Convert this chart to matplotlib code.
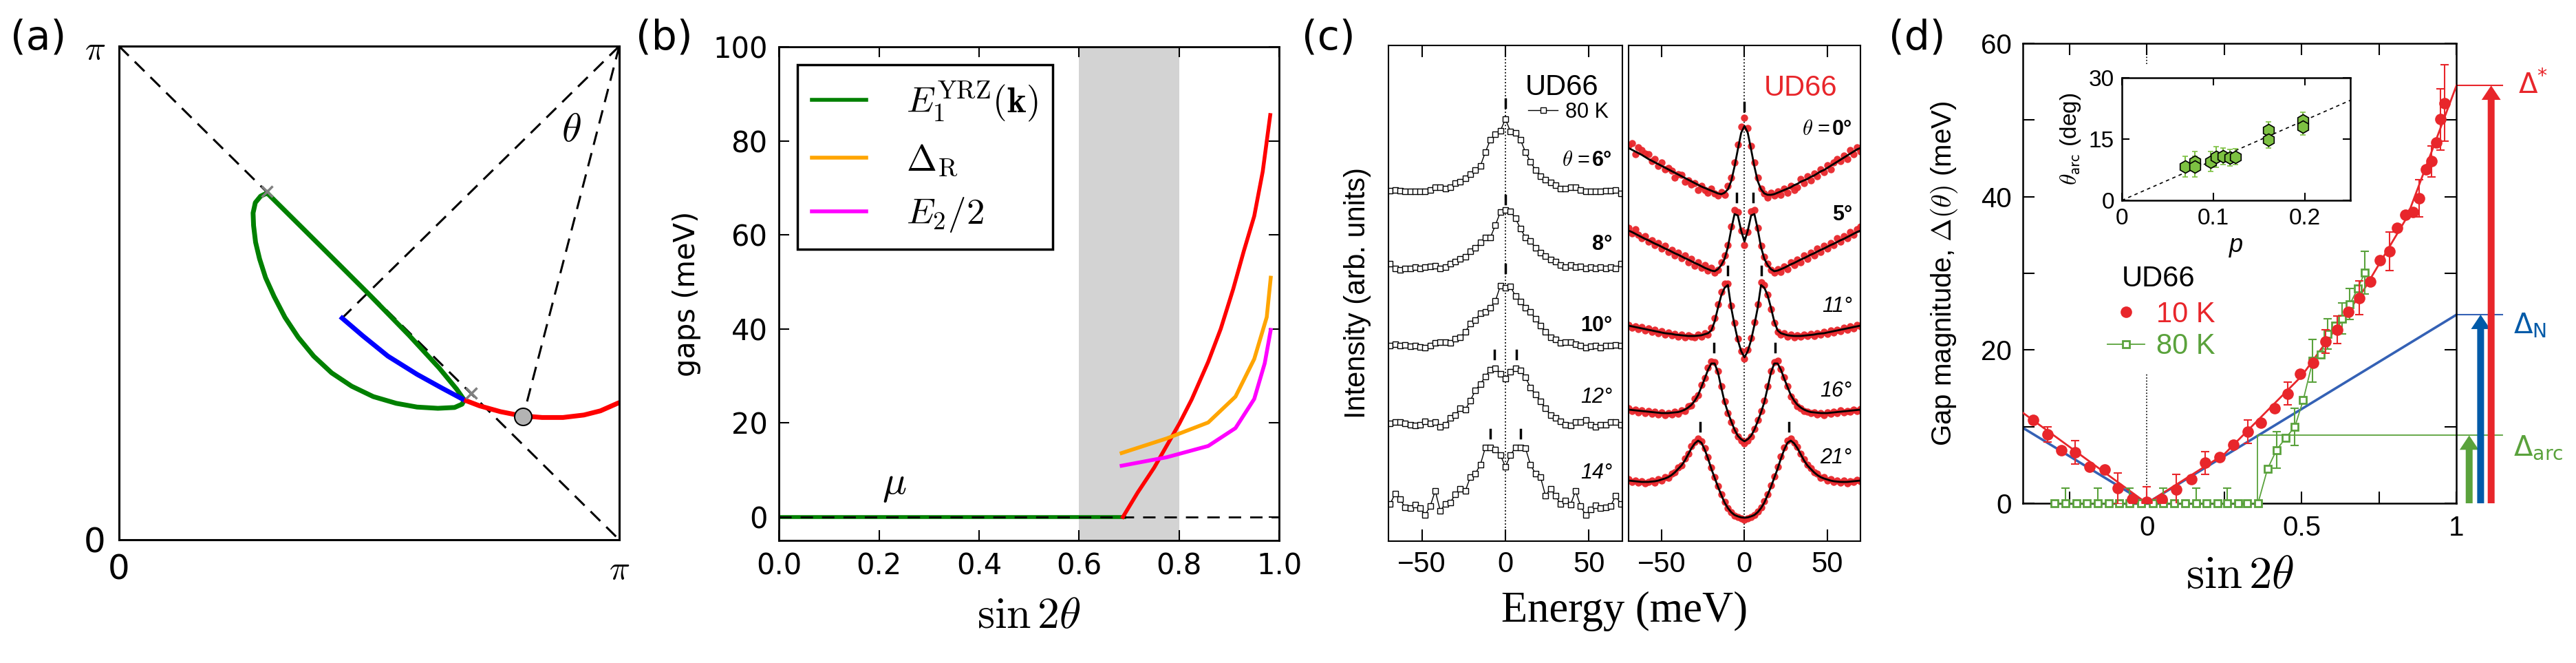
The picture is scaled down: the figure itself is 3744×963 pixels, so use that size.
import numpy as np
import matplotlib
matplotlib.use("Agg")
import matplotlib.pyplot as plt

plt.rcParams['mathtext.fontset'] = 'cm'
plt.rcParams['font.family'] = 'DejaVu Sans'

SANS = 'Liberation Sans'
RED = '#e8262b'
GREEN80 = '#5aa23c'
BLUE = '#3461b5'
BLUE_ARROW = '#005aa8'
HEX_GREEN = '#7dc142'

# ---------------- (a) Fermi pocket sketch, momenta in units of pi
pocket_out_kx = [0.296, 0.283, 0.2725, 0.268, 0.269, 0.273, 0.281, 0.293, 0.310, 0.3317, 0.3583, 0.3892,
                 0.425, 0.465, 0.5083, 0.5542, 0.5958, 0.6375, 0.6708, 0.6858, 0.69]
pocket_out_ky = [0.7025, 0.696, 0.683, 0.662, 0.6365, 0.6027, 0.5689, 0.5309, 0.4928, 0.4506, 0.41, 0.3719,
                 0.3381, 0.3111, 0.29, 0.2764, 0.2688, 0.2663, 0.268, 0.2747, 0.2832]
pocket_in_kx = [0.296, 0.40, 0.50, 0.58, 0.64, 0.675, 0.69]
pocket_in_ky = [0.7025, 0.598, 0.497, 0.414, 0.348, 0.305, 0.2832]
arc_kx = [0.446, 0.4875, 0.5375, 0.596, 0.646, 0.69]
arc_ky = [0.449, 0.413, 0.372, 0.335, 0.307, 0.2832]
fs_kx = [0.69, 0.7208, 0.7625, 0.8042, 0.8458, 0.8875, 0.9292, 0.9625, 1.0]
fs_ky = [0.2832, 0.2713, 0.2595, 0.2511, 0.2477, 0.2477, 0.2527, 0.2612, 0.278]
cross_kx = [0.296, 0.704]
cross_ky = [0.706, 0.297]
node_kx, node_ky = 0.808, 0.250

# ---------------- (b) gaps vs sin2theta
yrz_s = [0.0, 0.69]
yrz_gap = [0.0, 0.0]
red_s = [0.6875, 0.717, 0.75, 0.80, 0.825, 0.858, 0.883, 0.908, 0.929, 0.95, 0.967, 0.982]
red_gap = [0.0, 5.2, 10.5, 19.8, 25.0, 33.0, 40.0, 48.5, 56.5, 64.0, 73.5, 85.5]
dR_s = [0.685, 0.775, 0.858, 0.9125, 0.95, 0.975, 0.983]
dR_gap = [13.6, 16.7, 20.1, 25.6, 33.6, 42.5, 50.9]
e2_s = [0.685, 0.775, 0.858, 0.9125, 0.95, 0.971, 0.983]
e2_gap = [10.9, 12.7, 15.1, 18.9, 25.1, 32.7, 39.8]

# ---------------- (c) EDCs
E80 = np.arange(-69, 70, 3)
edc80_6 = [.04, .045, .035, .03, .03, .03, .03, .03, .05, .085, .09, .07, .09, .15, .17, .22, .28, .34, .40, .60, .78, .86, .91,
           1.08,
           .90, .88, .78, .60, .46, .34, .25, .20, .16, .12, .07, .07, .09, .09, .05, .03, .03, .03, .03, .035, .04, .05, .0]
edc80_8 = [.13, .06, .04, .06, .06, .08, .06, .08, .09, .10, .06, .08, .13, .16, .20, .23, .31, .36, .44, .51, .51, .69, .88,
           .91,
           .89, .79, .64, .51, .46, .36, .29, .24, .19, .16, .11, .08, .11, .08, .09, .06, .08, .06, .08, .06, .08, .06, .13]
edc80_10 = [.06, .08, .06, .07, .05, .06, .04, .03, .06, .10, .11, .11, .10, .16, .18, .26, .38, .43, .53, .55, .61, .71, .93,
            .90,
            .92, .78, .70, .61, .55, .45, .35, .26, .18, .15, .10, .11, .11, .08, .06, .03, .05, .06, .03, .06, .06, .07, .06]
edc80_12 = [.06, .08, .08, .06, .04, .03, .04, .09, .06, .08, .01, .04, .14, .18, .28, .26, .39, .54, .63, .74, .84, .86, .78,
            .71,
            .81, .86, .83, .73, .58, .48, .38, .28, .18, .14, .09, .04, .03, .08, .08, .11, .04, .01, .04, .04, .08, .08, .04]
edc80_14 = [.09, .24, .16, .04, .03, .08, .03, -.07, .06, .28, -.01, .09, .11, .23, .31, .28, .48, .53, .66, .91, .91, .88, .80,
            .63,
            .80, .91, .91, .90, .66, .53, .48, .21, .31, .21, .09, .14, .08, .28, .06, -.07, .01, .07, .03, .04, .06, .21, .09]
edc80 = [edc80_6, edc80_8, edc80_10, edc80_12, edc80_14]
off80 = [5.05, 3.90, 2.78, 1.65, 0.45]
lab80 = ['6°', '8°', '10°', '12°', '14°']
bold80 = [True, True, True, False, False]
laby80 = [5.53, 4.31, 3.13, 2.09, 0.99]
mark80_E = [0, 0, 0, -6.6, 6.5, -9.2, 8.9]
mark80_y = [6.36, 4.96, 3.96, 2.71, 2.71, 1.56, 1.56]

E10 = np.arange(-70, 71, 2)
fit10_0 = [.71, .685, .66, .635, .61, .58, .55, .525, .50, .475, .45, .425, .40, .375, .35, .325, .30, .275, .25, .225,
           .20, .175, .15, .13, .11, .09, .07, .05, .04, .06, .11, .23, .44, .69, .93,
           1.03,
           .93, .69, .44, .23, .11, .05, .03, .03, .04, .06, .08, .10, .12, .14, .17, .19, .22, .24, .26, .29,
           .31, .34, .37, .39, .42, .45, .48, .51, .54, .57, .60, .63, .66, .69, .71]
dots10_0 = [.75, .78, .62, .72, .68, .63, .62, .52, .55, .45, .50, .40, .42, .38, .28, .33, .32, .22, .24, .18,
            .20, .10, .16, .10, .06, .12, .05, .02, .07, .03, .16, .28, .50, .76, 1.02,
            1.15,
            1.00, .74, .50, .28, .12, .05, -.01, .06, .02, .08, .03, .12, .06, .16, .10, .14, .26, .20, .30, .24,
            .34, .30, .40, .36, .46, .40, .50, .55, .52, .60, .55, .68, .62, .72, .66]
fit10_5 = [.66, .64, .615, .59, .565, .54, .52, .495, .47, .45, .425, .40, .38, .355, .33, .31, .285, .26, .24, .215,
           .19, .17, .145, .12, .10, .08, .07, .10, .16, .25, .42, .68, .90, .88, .66,
           .50,
           .66, .88, .90, .68, .42, .25, .16, .10, .07, .08, .10, .12, .145, .17, .19, .215, .24, .26, .285, .31,
           .33, .355, .38, .40, .425, .45, .47, .495, .52, .54, .565, .59, .615, .64, .66]
dots10_5 = [.70, .62, .68, .60, .55, .58, .50, .52, .45, .48, .40, .44, .35, .38, .30, .34, .26, .30, .20, .25,
            .15, .20, .12, .16, .08, .12, .05, .09, .20, .30, .45, .72, .96, .93, .66,
            .45,
            .64, .94, .96, .70, .44, .28, .18, .09, .05, .10, .06, .14, .10, .20, .16, .24, .20, .30, .25, .34,
            .30, .40, .35, .44, .40, .48, .45, .55, .50, .58, .55, .64, .60, .68, .72]
fit10_11 = [.51, .50, .49, .48, .47, .46, .45, .44, .43, .42, .41, .40, .395, .39, .38, .375, .37, .365, .36, .36,
            .36, .365, .37, .385, .40, .44, .57, .77, .95, 1.06, 1.10, .77, .52, .30, .14,
            .05,
            .14, .30, .52, .77, 1.10, 1.06, .95, .77, .57, .44, .40, .385, .37, .365, .36, .36, .36, .365, .37, .375,
            .38, .39, .395, .40, .41, .42, .43, .44, .45, .46, .47, .48, .49, .50, .51]
dots10_11 = [.52, .48, .50, .46, .49, .44, .47, .42, .45, .40, .43, .38, .41, .37, .39, .35, .38, .34, .37, .35,
             .34, .38, .35, .40, .38, .48, .62, .82, 1.00, 1.12, 1.12, .80, .55, .32, .14,
             .03,
             .16, .33, .56, .82, 1.14, 1.10, .96, .75, .55, .42, .38, .40, .35, .38, .34, .37, .35, .38, .36, .39,
             .36, .40, .38, .42, .39, .44, .41, .45, .43, .48, .45, .50, .47, .52, .50]
fit10_16 = [.51, .505, .50, .495, .49, .485, .48, .475, .47, .465, .46, .46, .46, .465, .47, .475, .49, .51, .54, .58,
            .64, .72, .84, .96, 1.09, 1.18, 1.18, 1.05, .83, .62, .47, .34, .22, .13, .08,
            .05,
            .08, .13, .22, .34, .47, .62, .83, 1.05, 1.18, 1.18, 1.09, .96, .84, .72, .64, .58, .54, .51, .49, .475,
            .47, .465, .46, .46, .46, .465, .47, .475, .48, .485, .49, .495, .50, .505, .51]
dots10_16 = [.53, .49, .51, .47, .50, .46, .49, .45, .48, .44, .47, .43, .46, .44, .48, .45, .50, .49, .56, .57,
             .67, .72, .87, .97, 1.12, 1.21, 1.20, 1.07, .85, .63, .46, .33, .21, .12, .06,
             .02,
             .06, .12, .23, .36, .49, .64, .85, 1.07, 1.20, 1.22, 1.10, .98, .85, .70, .63, .56, .53, .49, .48, .46,
             .47, .44, .46, .43, .47, .45, .48, .46, .50, .47, .49, .48, .51, .49, .52]
fit10_21 = [.58, .575, .57, .565, .56, .56, .56, .565, .57, .58, .595, .61, .63, .66, .70, .75, .80, .87, .96, 1.05,
            1.12, 1.16, 1.13, 1.03, .90, .75, .62, .49, .37, .26, .18, .12, .08, .06, .045,
            .04,
            .045, .06, .08, .12, .18, .26, .37, .49, .62, .75, .90, 1.03, 1.13, 1.16, 1.12, 1.05, .96, .87, .80, .75,
            .70, .66, .63, .61, .595, .58, .57, .565, .56, .56, .56, .565, .57, .575, .58]
dots10_21 = [.60, .56, .58, .55, .57, .54, .56, .58, .55, .60, .58, .63, .62, .68, .70, .77, .80, .90, .97, 1.08,
             1.14, 1.19, 1.15, 1.05, .92, .77, .63, .50, .38, .27, .18, .12, .07, .05, .03,
             .01,
             .03, .05, .08, .13, .19, .28, .38, .51, .64, .78, .93, 1.06, 1.16, 1.19, 1.13, 1.07, .97, .89, .81, .76,
             .70, .68, .62, .63, .58, .60, .56, .58, .55, .58, .54, .57, .56, .59, .57]
fit10 = [fit10_0, fit10_5, fit10_11, fit10_16, fit10_21]
dots10 = [dots10_0, dots10_5, dots10_11, dots10_16, dots10_21]
off10 = [5.0, 3.85, 2.62, 1.40, 0.30]
lab10 = ['0°', '5°', '11°', '16°', '21°']
bold10 = [True, True, False, False, False]
laby10 = [5.98, 4.74, 3.41, 2.18, 1.21]
mark10_E = [0, -4.8, 5.2, -10.3, 10.3, -18.3, 18.6, -26.9, 26.9]
mark10_y = [6.31, 4.99, 4.99, 3.93, 3.93, 2.81, 2.81, 1.66, 1.66]

# ---------------- (d) gap vs sin2theta
s10 = [-0.368, -0.321, -0.275, -0.231, -0.184, -0.137, -0.093, -0.047, 0.0, 0.048, 0.095, 0.143, 0.188, 0.235,
       0.279, 0.327, 0.368, 0.412, 0.454, 0.496, 0.537, 0.577, 0.615, 0.651, 0.685, 0.721, 0.753, 0.783, 0.808,
       0.834, 0.859, 0.879, 0.901, 0.920, 0.935, 0.948, 0.961]
gap10 = [10.9, 8.95, 6.96, 6.65, 4.76, 4.4, 1.94, 0.56, 0.15, 0.56, 1.79, 3.1, 5.27, 6.0,
         7.67, 9.36, 10.5, 12.4, 14.3, 16.9, 18.3, 21.1, 22.6, 25.0, 26.8, 28.9, 31.7, 32.9, 35.9,
         37.6, 38.0, 39.8, 43.6, 44.6, 47.1, 50.1, 52.2]
err10 = [0, 1.0, 0, 1.5, 0, 0, 2.0, 0, 2.0, 0, 2.0, 0, 1.5, 0,
         0, 1.5, 0, 0, 1.5, 0, 0, 1.5, 1.8, 0, 2.2, 0, 0, 2.5, 0,
         0, 0, 2.4, 0, 2.0, 0, 4.0, 5.0]
fit10_s = [-0.4, 0.0, 0.25, 0.5, 0.7, 0.84, 1.0]
fit10_gap = [11.8, 0.0, 6.4, 16.6, 27.8, 37.3, 54.5]
s80 = [-0.298, -0.262, -0.226, -0.193, -0.159, -0.123, -0.089, -0.055, -0.019, 0.019, 0.053, 0.089, 0.123,
       0.159, 0.193, 0.228, 0.260, 0.294, 0.325, 0.359, 0.390, 0.419, 0.448, 0.478, 0.505, 0.536, 0.562,
       0.584, 0.609, 0.631, 0.656, 0.681, 0.704]
gap80 = [0, 0, 0, 0, 0, 0, 0, 0, 0, 0, 0, 0, 0, 0, 0, 0, 0, 0, 0, 0,
         4.5, 6.96, 8.5, 9.97, 13.45, 18.6, 19.4, 22.1, 23.2, 24.1, 26.0, 28.0, 30.1]
err80 = [0, 2.0, 0, 0, 2.0, 0, 0, 2.0, 0, 0, 2.0, 0, 0, 2.0, 0, 0, 2.0, 0, 0, 0,
         0, 2.4, 0, 2.4, 0, 2.8, 0, 2.0, 0, 2.0, 2.0, 0, 2.8]
dN_s = [-0.4, 0.0, 1.0]
dN_gap = [9.84, 0.0, 24.6]
delta_star = 54.5
delta_N = 24.6
delta_arc = 8.85
arc_edge = 0.357

# inset: arc length vs doping
p_dop = [0.0694, 0.080, 0.080, 0.097, 0.103, 0.111, 0.118, 0.124, 0.1606, 0.1606, 0.198, 0.198]
theta_arc = [8.3, 9.5, 8.3, 9.5, 10.6, 10.8, 10.5, 10.7, 17.2, 14.8, 19.5, 18.0]
theta_err = [2.5, 2.5, 2.5, 2.5, 2.5, 2.0, 2.0, 2.0, 2.0, 2.0, 2.0, 2.0]
lin_p = [0.0, 0.25]
lin_theta = [0.0, 24.5]


fig = plt.figure(figsize=(37.44, 9.63), dpi=100)

# ====================== panel (a)
ax = fig.add_axes([0.0462, 0.1859, 0.1942, 0.7445])
ax.set_xlim(0, 1)
ax.set_ylim(0, 1)
dash = dict(color='k', lw=2.2, dashes=(6.5, 4))
ax.plot([0, 1], [1, 0], **dash)
ax.plot([1, arc_kx[0]], [1, arc_ky[0]], **dash)
ax.plot([1, node_kx], [1, node_ky], **dash)
ax.plot(pocket_out_kx + pocket_in_kx[::-1], pocket_out_ky + pocket_in_ky[::-1], color='green', lw=5,
        solid_joinstyle='round')
ax.plot(arc_kx, arc_ky, color='blue', lw=5, solid_joinstyle='round')
ax.plot(fs_kx, fs_ky, color='red', lw=5, solid_capstyle='butt', solid_joinstyle='round')
ax.plot(cross_kx, cross_ky, 'x', color='gray', ms=11, mew=2.5)
ax.plot(node_kx, node_ky, 'o', ms=18, mfc='#b3b3b3', mec='k', mew=1.5, zorder=5)
ax.text(0.904, 0.831, r'$\theta$', fontsize=42, ha='center', va='center')
ax.set_xticks([0, 1])
ax.set_xticklabels(['0', r'$\pi$'])
ax.set_yticks([0, 1])
ax.set_yticklabels(['0', r'$\pi$'])
ax.tick_params(length=0, labelsize=36, pad=14)
for sp in ax.spines.values():
    sp.set_linewidth(2.2)

# ====================== panel (b)
ax = fig.add_axes([0.3024, 0.1848, 0.1942, 0.7445])
ax.set_xlim(0, 1)
ax.set_ylim(-5, 100)
ax.axvspan(0.6, 0.8, color='lightgray', lw=0)
h1, = ax.plot(yrz_s, yrz_gap, color='green', lw=4, label=r'$E_1^{\mathrm{YRZ}}(\mathbf{k})$')
ax.axhline(0, color='k', lw=2, dashes=(6.5, 4.7))
ax.plot(red_s, red_gap, color='red', lw=4)
h2, = ax.plot(dR_s, dR_gap, color='orange', lw=4, label=r'$\Delta_{\mathrm{R}}$')
h3, = ax.plot(e2_s, e2_gap, color='magenta', lw=4, label=r'$E_2/2$')
ax.text(0.23, 7, r'$\mu$', fontsize=42, ha='center', va='center')
leg = ax.legend(handles=[h1, h2, h3], loc='upper left', fontsize=38, handlelength=1.5,
                handletextpad=1.1, fancybox=False, edgecolor='k', framealpha=1)
leg.get_frame().set_linewidth(2.5)
ax.set_xticks([0, 0.2, 0.4, 0.6, 0.8, 1.0])
ax.set_yticks([0, 20, 40, 60, 80, 100])
ax.set_xticklabels(['0.0', '0.2', '0.4', '0.6', '0.8', '1.0'])
ax.tick_params(direction='in', top=True, right=True, length=11, width=1.5, labelsize=30, pad=12)
ax.set_ylabel('gaps (meV)', fontsize=30, labelpad=12)
ax.set_xlabel(r'$\sin 2\theta$', fontsize=46, labelpad=14)
for sp in ax.spines.values():
    sp.set_linewidth(2)

# ====================== panel (c)
axl = fig.add_axes([0.5390, 0.1838, 0.0908, 0.7477])
axr = fig.add_axes([0.6322, 0.1838, 0.0900, 0.7477])
for a in (axl, axr):
    a.set_xlim(-70, 70)
    a.set_ylim(0, 7.2)
    a.set_yticks([])
    a.set_xticks([-50, 0, 50])
    a.tick_params(axis='x', direction='in', top=True, bottom=True, length=12, width=1.5,
                  labelsize=30, pad=10, labelfontfamily=SANS)
    a.axvline(0, color='k', ls=':', lw=1.3)
    for sp in a.spines.values():
        sp.set_linewidth(1.5)

first = None
for vals, off in zip(edc80, off80):
    ln, = axl.plot(E80, off + np.array(vals), '-s', color='k', lw=1, ms=5.5, mfc='white', mec='k', mew=1)
    if first is None:
        first = ln
for e, y in zip(mark80_E, mark80_y):
    axl.plot([e, e], [y - 0.06, y + 0.06], color='k', lw=2.5)
for lab, b, y in zip(lab80, bold80, laby80):
    axl.text(64, y, lab, ha='right', va='center', fontsize=22, family=SANS,
             weight='bold' if b else 'normal', style='normal' if b else 'italic')
axl.annotate(r'$\theta$ = ', xy=(64, laby80[0]), xytext=(-22, 0), textcoords='offset points',
             ha='right', va='center', fontsize=22, family=SANS)
axl.text(11.8, 6.59, 'UD66', fontsize=30, family=SANS, ha='left', va='center')
axl.legend(handles=[first], labels=['80 K'], loc='center left', bbox_to_anchor=(0.598, 0.865),
           frameon=False, borderpad=0, borderaxespad=0, handlelength=1.4, handletextpad=0.35,
           prop={'family': SANS, 'size': 22})
axl.set_ylabel('Intensity (arb. units)', fontsize=30, family=SANS, labelpad=18)

for dv, fv, off in zip(dots10, fit10, off10):
    axr.plot(E10, off + np.array(dv), 'o', color=RED, ms=7.5, mew=0, alpha=0.95)
    axr.plot(E10, off + np.array(fv), color='k', lw=2)
for e, y in zip(mark10_E, mark10_y):
    axr.plot([e, e], [y - 0.06, y + 0.06], color='k', lw=2.5)
for lab, b, y in zip(lab10, bold10, laby10):
    axr.text(65, y, lab, ha='right', va='center', fontsize=22, family=SANS,
             weight='bold' if b else 'normal', style='normal' if b else 'italic')
axr.annotate(r'$\theta$ = ', xy=(65, laby10[0]), xytext=(-22, 0), textcoords='offset points',
             ha='right', va='center', fontsize=22, family=SANS)
axr.text(11.7, 6.58, 'UD66', fontsize=30, family=SANS, color=RED, ha='left', va='center')
fig.text(0.6306, 0.078, 'Energy (meV)', family='Liberation Serif', fontsize=45, ha='center', va='center')

# ====================== panel (d)
ax = fig.add_axes([0.7853, 0.2409, 0.1683, 0.6937])
ax.set_xlim(-0.4, 1.0)
ax.set_ylim(0, 60)
ax.plot([0, 0], [0, 17], color='k', ls=':', lw=1.2)
ax.plot([0, 0], [57.3, 60], color='k', ls=':', lw=1.2)
ax.plot(dN_s, dN_gap, color=BLUE, lw=2.6, zorder=2)
ax.plot([1.0, 1.148], [delta_N, delta_N], color=BLUE, lw=1.5, clip_on=False)
ax.plot(fit10_s, fit10_gap, color=RED, lw=2, zorder=3)
ax.plot([1.0, 1.148], [delta_star, delta_star], color=RED, lw=1.5, clip_on=False)
ax.plot([arc_edge, arc_edge, 1.148], [0, delta_arc, delta_arc], color=GREEN80, lw=1.3, clip_on=False)

s80a, g80a, e80a = np.array(s80), np.array(gap80), np.array(err80)
m = e80a > 0
ax.errorbar(s80a[m], g80a[m], yerr=e80a[m], fmt='none', ecolor=GREEN80, elinewidth=1.5, capsize=4,
            capthick=1.5, zorder=3)
line80, = ax.plot(s80, gap80, '-s', color=GREEN80, mfc='white', mec=GREEN80, ms=7, mew=2, lw=1.3,
                  clip_on=False, zorder=3)

s10a, g10a, e10a = np.array(s10), np.array(gap10), np.array(err10)
m = e10a > 0
ax.errorbar(s10a[m], g10a[m], yerr=e10a[m], fmt='none', ecolor=RED, elinewidth=1.5, capsize=4,
            capthick=1.5, zorder=4)
dots10line, = ax.plot(s10, gap10, 'o', color=RED, ms=12, mew=0, zorder=5)

arrow_style = 'simple,head_length=0.75,head_width=1.0,tail_width=0.36'
for xa, top, col in [(1.041, delta_arc, GREEN80), (1.078, delta_N, BLUE_ARROW), (1.112, delta_star, RED)]:
    ax.annotate('', xy=(xa, top), xytext=(xa, 0), annotation_clip=False,
                arrowprops=dict(arrowstyle=arrow_style, mutation_scale=20, fc=col, ec='none',
                                shrinkA=0, shrinkB=0))
ax.text(1.199, delta_star, r'$\Delta^{*}$', color=RED, fontsize=29, math_fontfamily='dejavusans', va='center')
ax.text(1.184, delta_N - 1.4, r'$\Delta_{\mathrm{N}}$', color=BLUE_ARROW, fontsize=29,
        math_fontfamily='dejavusans', va='center')
ax.text(1.184, delta_arc - 1.6, r'$\Delta_{\mathrm{arc}}$', color=GREEN80, fontsize=29,
        math_fontfamily='dejavusans', va='center')

ax.text(-0.082, 29.3, 'UD66', fontsize=30, family=SANS, ha='left', va='center')
ax.legend(handles=[dots10line, line80], labels=['10 K', '80 K'], loc='upper left',
          bbox_to_anchor=(0.195, 0.44), frameon=False, borderpad=0, borderaxespad=0,
          handlelength=1.3, handletextpad=0.4, labelspacing=0.15, labelcolor=[RED, GREEN80],
          prop={'family': SANS, 'size': 30})

ax.set_xticks([0, 0.5, 1.0])
ax.set_xticklabels(['0', '0.5', '1'])
ax.set_xticks([-0.25, 0.25, 0.75], minor=True)
ax.set_yticks([0, 20, 40, 60])
ax.set_yticks([10, 30, 50], minor=True)
ax.tick_params(which='both', direction='in', top=True, right=True, length=12, width=1.5,
               labelsize=29, pad=12, labelfontfamily=SANS)
ax.set_ylabel(r'Gap magnitude, $\Delta(\theta)$ (meV)', fontsize=29, family=SANS, labelpad=22)
ax.set_xlabel(r'$\sin 2\theta$', fontsize=48, labelpad=12)
for sp in ax.spines.values():
    sp.set_linewidth(1.8)

axin = fig.add_axes([0.8237, 0.6978, 0.0887, 0.1848])
axin.set_xlim(0, 0.25)
axin.set_ylim(0, 30)
axin.plot(lin_p, lin_theta, color='k', lw=1.2, dashes=(3, 3))
axin.errorbar(p_dop, theta_arc, yerr=theta_err, fmt='h', ms=13, mfc=HEX_GREEN, mec='k', mew=1.2,
              ecolor=HEX_GREEN, elinewidth=1.5, capsize=3, capthick=1.5)
axin.set_xticks([0, 0.1, 0.2])
axin.set_xticklabels(['0', '0.1', '0.2'])
axin.set_yticks([0, 15, 30])
axin.tick_params(direction='in', top=True, right=True, length=8, width=1.5, labelsize=24, pad=8,
                 labelfontfamily=SANS)
axin.set_xlabel('p', fontsize=26, style='italic', family=SANS, labelpad=4)
axin.set_ylabel(r'$\theta_{\mathsf{arc}}$ (deg)', fontsize=24, family=SANS, labelpad=6)
for sp in axin.spines.values():
    sp.set_linewidth(1.8)

# panel letters
for x, s in [(0.004, '(a)'), (0.2468, '(b)'), (0.5053, '(c)'), (0.7332, '(d)')]:
    fig.text(x, 0.972, s, fontsize=42, va='top', ha='left')

fig.savefig('out.png', dpi=100)
